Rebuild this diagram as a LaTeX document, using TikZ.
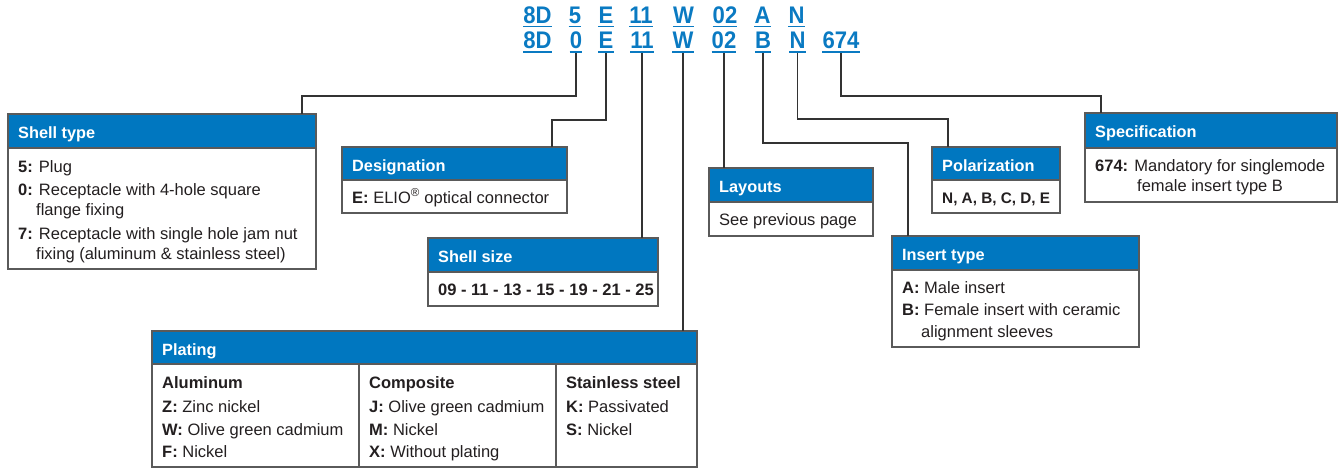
\documentclass[tikz,border=0pt]{standalone}
\usepackage{fontspec}
\setmainfont{Liberation Sans}
\newfontfamily\codefont{Liberation Sans}[FakeStretch=0.92]
\definecolor{hblue}{HTML}{0077C0}
\definecolor{cblue}{HTML}{0A7AC2}
\definecolor{bordercol}{HTML}{5A5A5A}
\definecolor{conncol}{HTML}{333333}
\definecolor{txtcol}{HTML}{231F20}
\tikzset{
  frame/.style={draw=bordercol, line width=1.3pt, fill=white, inner sep=0pt, outer sep=0pt},
  hdr/.style={draw=bordercol, line width=1.3pt, fill=hblue, inner sep=0pt, outer sep=0pt},
  conn/.style={draw=conncol, line width=1.1pt},
  divider/.style={draw=bordercol, line width=1.3pt},
  txt/.style={anchor=base west, inner sep=0pt, text=txtcol, font=\fontsize{16.5}{20}\selectfont},
  htxt/.style={anchor=base west, inner sep=0pt, text=white, font=\bfseries\fontsize{16.3}{20}\selectfont},
  code/.style={anchor=base, inner sep=0pt, text=cblue, font=\codefont\bfseries\fontsize{24}{28}\selectfont},
  uline/.style={draw=cblue, line width=1.8pt}
}
\newcommand{\mybox}[6]{%
  \node[frame, anchor=north west, minimum width=#4pt, minimum height=#5pt] (#1) at (#2,#3) {};
  \node[hdr, anchor=north west, minimum width=#4pt, minimum height=#6pt] (#1h) at (#2,#3) {};
}
\newcommand{\codeitem}[4]{%
  \node[code] (#1) at (#2,#3) {#4};
  \draw[uline] ([yshift=-3.5pt]#1.base west) -- ([yshift=-3.5pt]#1.base east);
}
\begin{document}
\begin{tikzpicture}[x=1pt,y=-1pt]
\useasboundingbox (0,0) rectangle (1342,469);

% code rows
\codeitem{a8D}{537.5}{23}{8D}
\codeitem{a5}{575}{23}{5}
\codeitem{aE}{606}{23}{E}
\codeitem{a11}{641}{23}{11}
\codeitem{aW}{683.5}{23}{W}
\codeitem{a02}{725}{23}{02}
\codeitem{aA}{762.5}{23}{A}
\codeitem{aN}{796.5}{23}{N}

\codeitem{b8D}{537.5}{48.5}{8D}
\codeitem{b0}{576}{48.5}{0}
\codeitem{bE}{606}{48.5}{E}
\codeitem{b11}{642}{48.5}{11}
\codeitem{bW}{683}{48.5}{W}
\codeitem{b02}{724}{48.5}{02}
\codeitem{bB}{763}{48.5}{B}
\codeitem{bN}{797.5}{48.5}{N}
\codeitem{b674}{841}{48.5}{674}

% boxes
\mybox{st}{8}{114}{308}{155}{34}
\mybox{des}{342}{147}{225}{66}{33}
\mybox{ss}{428}{238}{230}{68}{34}
\mybox{pl}{152}{331}{545}{136}{33}
\mybox{lay}{709}{168}{164}{68}{34}
\mybox{pol}{932}{147}{128}{66}{33}
\mybox{ins}{892}{236}{247}{111}{34}
\mybox{spec}{1085}{113}{252}{89}{35}

% plating dividers
\draw[divider] (359,364) -- (359,467);
\draw[divider] (556,364) -- (556,467);

% connectors
\coordinate (k0) at (302,96);
\coordinate (kE) at (552,120);
\coordinate (kB) at (908,143);
\coordinate (kN) at (948,119);
\coordinate (k674) at (1101,96);
\draw[conn] ([yshift=-4.5pt]b0.base) |- (k0) -- (k0 |- st.north);
\draw[conn] ([yshift=-4.5pt]bE.base) |- (kE) -- (kE |- des.north);
\draw[conn] ([yshift=-4.5pt]b11.base) -- (b11.base |- ss.north);
\draw[conn] ([yshift=-4.5pt]bW.base) -- (bW.base |- pl.north);
\draw[conn] ([yshift=-4.5pt]b02.base) -- (b02.base |- lay.north);
\draw[conn] ([yshift=-4.5pt]bB.base) |- (kB) -- (kB |- ins.north);
\draw[conn] ([yshift=-4.5pt]bN.base) |- (kN) -- (kN |- pol.north);
\draw[conn] ([yshift=-4.5pt]b674.base) |- (k674) -- (k674 |- spec.north);

% Shell type
\node[htxt] (sth-t) at (18,138) {Shell type};
\node[txt] (st1) at (18,172) {\textbf{5:} Plug};
\node[txt] (st2) at (18,195) {\textbf{0:} Receptacle with 4-hole square};
\node[txt] (st3) at (36,215) {flange fixing};
\node[txt] (st4) at (18,239) {\textbf{7:} Receptacle with single hole jam nut};
\node[txt] (st5) at (36,259) {fixing (aluminum \& stainless steel)};

% Designation
\node[htxt] (desh-t) at (352,171) {Designation};
\node[txt] (des1) at (352,203) {\textbf{E:} ELIO\textsuperscript{®} optical connector};

% Shell size
\node[htxt] (ssh-t) at (438,262) {Shell size};
\node[txt] (ss1) at (438,295) {\textbf{09 - 11 - 13 - 15 - 19 - 21 - 25}};

% Plating
\node[htxt] (plh-t) at (162,355) {Plating};
\node[txt] (p11) at (162,388) {\textbf{Aluminum}};
\node[txt] (p12) at (162,412) {\textbf{Z:} Zinc nickel};
\node[txt] (p13) at (162,435) {\textbf{W:} Olive green cadmium};
\node[txt] (p14) at (162,457) {\textbf{F:} Nickel};
\node[txt] (p21) at (369,388) {\textbf{Composite}};
\node[txt] (p22) at (369,412) {\textbf{J:} Olive green cadmium};
\node[txt] (p23) at (369,435) {\textbf{M:} Nickel};
\node[txt] (p24) at (369,457) {\textbf{X:} Without plating};
\node[txt] (p31) at (566,388) {\textbf{Stainless steel}};
\node[txt] (p32) at (566,412) {\textbf{K:} Passivated};
\node[txt] (p33) at (566,435) {\textbf{S:} Nickel};

% Layouts
\node[htxt] (layh-t) at (719,192) {Layouts};
\node[txt] (lay1) at (719,225) {See previous page};

% Polarization
\node[htxt] (polh-t) at (942,171) {Polarization};
\node[txt, font=\fontsize{15.3}{20}\selectfont] (pol1) at (942,203) {\textbf{N, A, B, C, D, E}};

% Insert type
\node[htxt] (insh-t) at (902,260) {Insert type};
\node[txt] (ins1) at (902,293) {\textbf{A:} Male insert};
\node[txt] (ins2) at (902,315) {\textbf{B:} Female insert with ceramic};
\node[txt] (ins3) at (921,337) {alignment sleeves};

% Specification
\node[htxt] (spech-t) at (1095,137) {Specification};
\node[txt] (spec1) at (1095,171) {\textbf{674:} Mandatory for singlemode};
\node[txt] (spec2) at (1137,191) {female insert type B};
\end{tikzpicture}
\end{document}
